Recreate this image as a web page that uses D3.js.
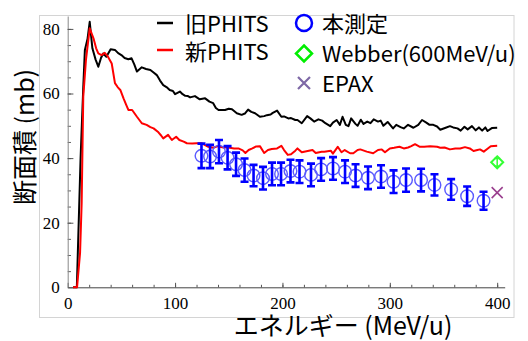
<!DOCTYPE html>
<html>
<head>
<meta charset="utf-8">
<script src="https://cdn.jsdelivr.net/npm/d3@7"></script>
<style>
  body { margin: 0; background: #fff; }
  svg { display: block; }
</style>
</head>
<body>
<div id="chart"></div>
<script>
// 旧PHITS (old model)
var oldE  = [5, 8.5, 12, 14.5, 16, 18.5, 20.5, 23, 26, 28.5, 31, 33, 36, 40, 44, 47, 50, 53, 56.5, 59.5,
  62, 64.5, 69, 73, 77, 80, 83, 86, 89, 92, 95, 98, 100, 104.5, 107, 109.5, 112, 114, 118.5, 123,
  128, 132, 135.5, 138, 140.5, 146.5, 150, 153, 157.5, 162, 165, 168, 171, 174.5, 179, 183, 185.5, 189, 191, 195,
  199, 201.5, 205.5, 208, 212, 214, 218, 223, 226, 229.5, 233.5, 237, 240, 244.5, 247, 250.5, 253.5, 256, 259, 261.5,
  264, 268, 270, 273, 275.5, 279, 282, 285, 289, 291.5, 294, 298, 303, 306, 310, 313, 317, 322, 326.5, 330,
  334, 337, 340.5, 344, 347, 352, 356, 359, 363, 366, 369.5, 372.5, 376.5, 380, 383, 386, 389, 391, 395, 400];
var oldXS = [0, 0, 40, 62, 73.5, 77, 82.2, 74, 70.5, 68.3, 71, 72.4, 71.4, 73.7, 73.5, 72.5, 71.9, 71, 70.6, 70.9,
  69, 66.8, 68.1, 67.6, 67.3, 66.5, 65.7, 64, 62.6, 62, 61.1, 60.8, 59.8, 60.6, 59.8, 59.3, 59.2, 58.8, 59.2, 58.2,
  58.5, 57.5, 57, 55.5, 54.9, 54.9, 55.3, 55.1, 53.9, 53.4, 53.8, 55, 54.3, 53.9, 52.8, 53, 53.3, 53.5, 54, 54.7,
  52.8, 52.9, 52.3, 52.4, 51.8, 51.8, 50.8, 53, 52.3, 51.3, 52, 51.6, 50.8, 49.9, 51, 51.8, 50.3, 52.8, 50.3, 49.9,
  52.3, 50.6, 50, 51.9, 50.6, 51.3, 50.8, 52, 51.3, 51.6, 50, 51.2, 49.2, 50.3, 49.6, 49.2, 50.3, 49.4, 50.3, 51.8,
  51, 50.3, 50.3, 49.8, 48.8, 49.4, 49.9, 49.5, 49.2, 48.5, 49.7, 48.9, 49.9, 48.6, 49.5, 48.5, 49.5, 48.4, 49.3, 49.4];

// 新PHITS (new model)
var newE  = [5, 8.7, 11.5, 13, 14.5, 17, 20.5, 24, 26.5, 28.5, 31.5, 34.5, 37.5, 41, 44, 46.5, 49, 52, 54.5, 56.5,
  60, 64.5, 69, 73.5, 77, 80, 84.5, 87, 89, 93.5, 97, 101, 104, 108, 111, 116, 120, 125, 131, 135.5,
  140, 145, 149.5, 155, 159, 163, 165.5, 168.5, 172, 175.5, 179, 183, 186.5, 190, 195, 199, 201.5, 205, 208, 212,
  214, 218, 223.5, 228, 231, 236.5, 239, 245, 247, 251.5, 255, 258, 263, 266, 270, 272.5, 278.5, 284.5, 289, 292.5,
  295.5, 300, 304, 309, 313, 317, 320, 323.5, 328, 332, 337.5, 344, 347, 351, 356, 361, 365.5, 370, 374.5, 378,
  381.5, 384, 387.5, 391, 394, 400];
var newXS = [0, 0, 10.6, 26, 59, 70.4, 80.2, 77.1, 74, 72.4, 71.9, 72.6, 71.4, 69.3, 63.2, 62, 61.1, 58.5, 56.5, 54.9,
  54.9, 52.8, 50.8, 50.3, 49.6, 49.2, 48, 47, 46.1, 47.2, 45.6, 46.6, 45.6, 45.1, 44.6, 44.5, 44.6, 44.6, 43.5, 43.2,
  43.7, 43.3, 43.3, 43, 43, 42.4, 41.6, 42.5, 43, 43.6, 43.7, 41.6, 42.5, 42.8, 43, 43.8, 42.5, 41, 41.2, 42.3,
  43, 41.8, 42.2, 42.5, 41.6, 42, 42, 42.3, 41.4, 43.5, 41.8, 42.5, 41.5, 41.5, 42.5, 42.7, 42, 41.5, 42.5, 42.7,
  41.8, 43, 43.2, 43.5, 43, 43.3, 43.7, 44.3, 43.5, 43.5, 43.7, 43.5, 43.2, 43.3, 42.7, 43, 43, 43.4, 43, 42.2,
  42.5, 42.7, 42, 42.9, 43.7, 43.8];

// 本測定 (measurement)
var measE   = [124.6, 132.6, 140.9, 148.9, 156.8, 164.7, 173.1, 181.9, 190.3, 198.7, 207.5, 215.9, 226.6,
  236.0, 247.1, 258.3, 268.1, 279.7, 291.8, 303.5, 315.1, 329.1, 341.6, 357.1, 372.0, 387.3];
var measXS  = [40.7, 40.5, 42.0, 40.1, 38.1, 36.3, 34.6, 33.8, 35.1, 35.1, 36.0, 35.8, 34.8,
  36.5, 36.8, 35.8, 34.6, 33.9, 34.3, 32.7, 33.2, 33.2, 31.7, 30.3, 28.2, 26.8];
var measErr = [3.8, 3.6, 3.6, 3.6, 3.6, 3.6, 3.3, 3.5, 3.5, 3.5, 3.5, 3.5, 3.5,
  3.5, 3.5, 3.5, 3.5, 3.5, 3.5, 3.5, 3.6, 3.5, 3.3, 3.2, 3.0, 2.8];

// Webber (600MeV/u) and EPAX
var webberE = [400], webberXS = [38.7], webberErr = [1.2];
var epaxE = [400], epaxXS = [29.3];

var xTicks = [0, 100, 200, 300, 400];
var yTicks = [0, 20, 40, 60, 80];

var width = 528, height = 341;

var svg = d3.select("#chart").append("svg")
    .attr("width", width)
    .attr("height", height)
    .style("font-family", "'Noto Sans CJK JP', 'Noto Sans', sans-serif");

svg.append("rect")
    .attr("width", width).attr("height", height)
    .attr("fill", "#fff");

// light frame round the plot area
svg.append("rect")
    .attr("x", 39.5).attr("y", 15.5)
    .attr("width", 474.5).attr("height", 302)
    .attr("fill", "none")
    .attr("stroke", "#d4d4d4");

var x = d3.scaleLinear().domain([0, 407]).range([67.7, 504.7]);
var y = d3.scaleLinear().domain([0, 84]).range([287.3, 16]);

// minor ticks
svg.append("g")
    .attr("transform", "translate(0," + y(0) + ")")
    .call(d3.axisBottom(x).tickValues(d3.range(20, 401, 20)).tickSize(-2.5).tickSizeOuter(0).tickFormat(""))
    .call(g => g.select(".domain").remove())
    .call(g => g.selectAll("line").attr("stroke", "#555"));

svg.append("g")
    .attr("transform", "translate(" + x(0) + ",0)")
    .call(d3.axisLeft(y).tickValues(d3.range(5, 81, 5)).tickSize(-3.3).tickSizeOuter(0).tickFormat(""))
    .call(g => g.select(".domain").remove())
    .call(g => g.selectAll("line").attr("stroke", "#666"));

// major axes
var xAxis = svg.append("g")
    .attr("transform", "translate(0," + y(0) + ")")
    .call(d3.axisBottom(x).tickValues(xTicks).tickSize(-4.5).tickSizeOuter(0).tickPadding(10));

var yAxis = svg.append("g")
    .attr("transform", "translate(" + x(0) + ",0)")
    .call(d3.axisLeft(y).tickValues(yTicks).tickSize(-5.7).tickSizeOuter(0).tickPadding(8));

xAxis.select(".domain").attr("stroke", "#444");
yAxis.select(".domain").attr("stroke", "#888");
[xAxis, yAxis].forEach(function (g) {
  g.attr("font-family", "'Liberation Serif', 'Times New Roman', serif")
   .attr("font-size", 17);
  g.selectAll("line").attr("stroke", "#555");
  g.selectAll("text")
      .attr("fill", "#000")
      .style("font-family", "'Liberation Serif', 'Times New Roman', serif")
      .style("font-size", "17px");
});

// model lines
var line = d3.line()
    .x(d => x(d[0]))
    .y(d => y(d[1]));

svg.append("path")
    .datum(oldE.map((e, i) => [e, oldXS[i]]))
    .attr("fill", "none")
    .attr("stroke", "#000")
    .attr("stroke-width", 2)
    .attr("stroke-linejoin", "round")
    .attr("d", line);

svg.append("path")
    .datum(newE.map((e, i) => [e, newXS[i]]))
    .attr("fill", "none")
    .attr("stroke", "#ff0000")
    .attr("stroke-width", 2)
    .attr("stroke-linejoin", "round")
    .attr("d", line);

// measurement with error bars
var meas = measE.map((e, i) => ({e: e, v: measXS[i], err: measErr[i]}));
var pts = svg.append("g").selectAll("g")
    .data(meas)
    .enter().append("g");

pts.append("circle")
    .attr("cx", d => x(d.e))
    .attr("cy", d => y(d.v))
    .attr("r", 6.3)
    .attr("fill", "none")
    .attr("stroke", "#5a5aff")
    .attr("stroke-width", 1.4);

pts.append("path")
    .attr("d", function (d) {
      var cx = x(d.e), y0 = y(d.v - d.err), y1 = y(d.v + d.err);
      return "M" + cx + "," + y0 + "V" + y1 +
             "M" + (cx - 4) + "," + y0 + "H" + (cx + 4) +
             "M" + (cx - 4) + "," + y1 + "H" + (cx + 4);
    })
    .attr("fill", "none")
    .attr("stroke", "#0000ff")
    .attr("stroke-width", 2.6);

// Webber point
webberE.forEach(function (e, i) {
  var cx = x(e), cy = y(webberXS[i]);
  var y0 = y(webberXS[i] - webberErr[i]), y1 = y(webberXS[i] + webberErr[i]);
  svg.append("path")
      .attr("d", "M" + cx + "," + (cy - 6) + "L" + (cx + 6) + "," + cy + "L" + cx + "," + (cy + 6) + "L" + (cx - 6) + "," + cy + "Z")
      .attr("fill", "none")
      .attr("stroke", "#33ff33")
      .attr("stroke-width", 2);
  svg.append("path")
      .attr("d", "M" + cx + "," + y0 + "V" + y1 +
                 "M" + (cx - 3) + "," + y0 + "H" + (cx + 3) +
                 "M" + (cx - 3) + "," + y1 + "H" + (cx + 3))
      .attr("fill", "none")
      .attr("stroke", "#33ff33")
      .attr("stroke-width", 1.5);
});

// EPAX point
epaxE.forEach(function (e, i) {
  var cx = x(e), cy = y(epaxXS[i]);
  svg.append("path")
      .attr("d", "M" + (cx - 5.5) + "," + (cy - 5.5) + "L" + (cx + 5.5) + "," + (cy + 5.5) +
                 "M" + (cx - 5.5) + "," + (cy + 5.5) + "L" + (cx + 5.5) + "," + (cy - 5.5))
      .attr("stroke", "#9a3f8e")
      .attr("stroke-width", 1.6);
});

// axis titles
svg.append("text")
    .attr("x", 343).attr("y", 335)
    .attr("text-anchor", "middle")
    .style("font-size", "25px")
    .attr("fill", "#000")
    .text("エネルギー (MeV/u)");

svg.append("text")
    .attr("transform", "translate(23,137) rotate(-90)")
    .attr("text-anchor", "middle")
    .attr("dominant-baseline", "central")
    .style("font-size", "25px")
    .attr("fill", "#000")
    .text("断面積 (mb)");

// legend
var legend = svg.append("g").style("font-size", "22px");

legend.append("line").attr("x1", 157).attr("x2", 173).attr("y1", 23).attr("y2", 23)
    .attr("stroke", "#000").attr("stroke-width", 2.5);
legend.append("text").attr("x", 185).attr("y", 31.5).text("旧PHITS");

legend.append("line").attr("x1", 157).attr("x2", 173).attr("y1", 50).attr("y2", 50)
    .attr("stroke", "#ff0000").attr("stroke-width", 2.5);
legend.append("text").attr("x", 185).attr("y", 59.5).text("新PHITS");

legend.append("circle").attr("cx", 304).attr("cy", 23).attr("r", 8)
    .attr("fill", "none").attr("stroke", "#0000ff").attr("stroke-width", 2.5);
legend.append("text").attr("x", 322).attr("y", 31.5).text("本測定");

legend.append("path")
    .attr("d", "M304,45.5L312,53.5L304,61.5L296,53.5Z")
    .attr("fill", "none").attr("stroke", "#00ee00").attr("stroke-width", 2.5);
legend.append("text").attr("x", 322).attr("y", 61.5).text("Webber(600MeV/u)");

legend.append("path")
    .attr("d", "M298,77L310,89M298,89L310,77")
    .attr("stroke", "#7e68a6").attr("stroke-width", 2.2);
legend.append("text").attr("x", 322).attr("y", 92).text("EPAX");
</script>
</body>
</html>
